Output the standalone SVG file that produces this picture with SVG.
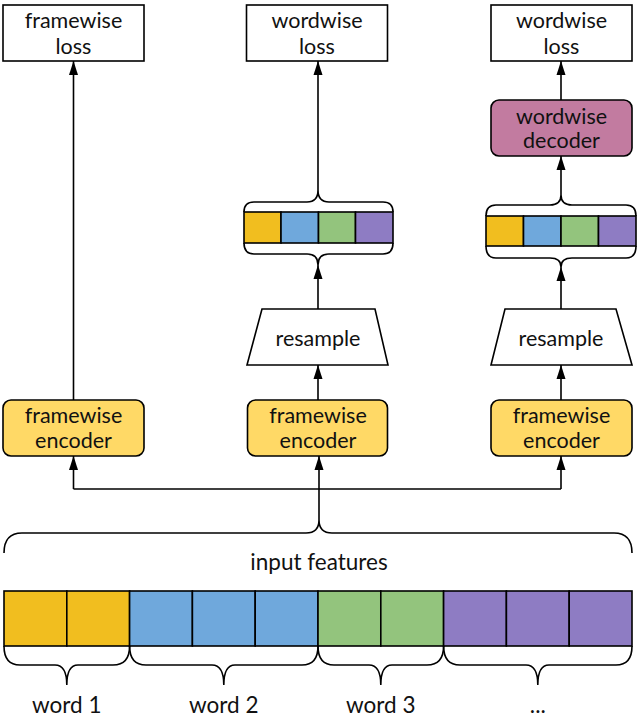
<svg xmlns="http://www.w3.org/2000/svg" width="640" height="719" viewBox="0 0 640 719">
<defs>
<marker id="arr" markerUnits="userSpaceOnUse" markerWidth="14" markerHeight="10" refX="14" refY="5" orient="auto">
<path d="M0,0.5 L14,5 L0,9.5 z" fill="#000"/>
</marker>
<style>
.box{fill:#fff;stroke:#000;stroke-width:1.6}
.enc{fill:#FFD966;stroke:#000;stroke-width:1.6}
.dec{fill:#C27BA0;stroke:#000;stroke-width:1.6}
.cell{stroke:#000;stroke-width:1.6}
.y{fill:#F1BE1F}.b{fill:#6FA8DC}.g{fill:#93C47D}.p{fill:#8E7CC3}
.br{fill:none;stroke:#000;stroke-width:1.6}
.ln{fill:none;stroke:#000;stroke-width:1.6}
text{font-family:Lato,"Liberation Sans",sans-serif;font-size:21.5px;fill:#111;text-anchor:middle}
text.big{font-size:22.5px}
</style>
</defs>
<rect width="640" height="719" fill="#fff"/>

<g id="loss-framewise"><rect class="box" x="3" y="5" width="141" height="56"/><text x="73.5" y="28">framewise</text><text x="73.5" y="54">loss</text></g>
<g id="loss-wordwise-mid"><rect class="box" x="246.5" y="5" width="141" height="56"/><text x="317" y="28">wordwise</text><text x="317" y="54">loss</text></g>
<g id="loss-wordwise-right"><rect class="box" x="491" y="5" width="141" height="56"/><text x="561.5" y="28">wordwise</text><text x="561.5" y="54">loss</text></g>

<g id="decoder"><rect class="dec" x="491" y="100" width="141" height="56" rx="8"/><text x="561.5" y="124">wordwise</text><text x="561.5" y="148">decoder</text></g>

<g id="words-mid">
<rect class="cell y" x="244" y="212" width="37" height="31"/>
<rect class="cell b" x="281" y="212" width="37.5" height="31"/>
<rect class="cell g" x="318.5" y="212" width="37" height="31"/>
<rect class="cell p" x="355.5" y="212" width="37.5" height="31"/>
<path class="br" d="M244,212 Q244,202 254,202 L307,202 Q318,202 318,190 Q318,202 329,202 L383,202 Q393,202 393,212"/>
<path class="br" d="M244,243 Q244,254 254,254 L307,254 Q318,254 318,265 Q318,254 329,254 L383,254 Q393,254 393,243"/>
</g>
<g id="words-right">
<rect class="cell y" x="486" y="216" width="37.5" height="30"/>
<rect class="cell b" x="523.5" y="216" width="37.5" height="30"/>
<rect class="cell g" x="561" y="216" width="37.5" height="30"/>
<rect class="cell p" x="598.5" y="216" width="37.5" height="30"/>
<path class="br" d="M486,216 Q486,205 496,205 L550,205 Q561,205 561,195 Q561,205 572,205 L626,205 Q636,205 636,216"/>
<path class="br" d="M486,246 Q486,258 496,258 L550,258 Q561,258 561,267 Q561,258 572,258 L626,258 Q636,258 636,246"/>
</g>

<g id="resample-mid"><path class="box" d="M262,309 L375,309 L388,365 L247,365 Z"/><text x="318" y="346">resample</text></g>
<g id="resample-right"><path class="box" d="M505,309 L616,309 L632,365 L491,365 Z"/><text x="561" y="346">resample</text></g>

<g id="enc-left"><rect class="enc" x="3" y="400" width="141" height="56" rx="8"/><text x="73.5" y="423">framewise</text><text x="73.5" y="448">encoder</text></g>
<g id="enc-mid"><rect class="enc" x="247.5" y="400" width="140" height="56" rx="8"/><text x="318" y="423">framewise</text><text x="318" y="448">encoder</text></g>
<g id="enc-right"><rect class="enc" x="491" y="400" width="141" height="56" rx="8"/><text x="561.5" y="423">framewise</text><text x="561.5" y="448">encoder</text></g>

<g id="input-features">
<path class="br" d="M4,553 Q4,533 22,533 L306,533 Q319,533 319,520 Q319,533 332,533 L614,533 Q632,533 632,553"/>
<text class="big" x="319" y="570">input features</text>
<rect class="cell y" x="4" y="591" width="62.8" height="55"/>
<rect class="cell y" x="66.8" y="591" width="62.8" height="55"/>
<rect class="cell b" x="129.6" y="591" width="62.8" height="55"/>
<rect class="cell b" x="192.4" y="591" width="62.8" height="55"/>
<rect class="cell b" x="255.2" y="591" width="62.8" height="55"/>
<rect class="cell g" x="318" y="591" width="62.8" height="55"/>
<rect class="cell g" x="380.8" y="591" width="62.8" height="55"/>
<rect class="cell p" x="443.6" y="591" width="62.8" height="55"/>
<rect class="cell p" x="506.4" y="591" width="62.8" height="55"/>
<rect class="cell p" x="569.2" y="591" width="62.8" height="55"/>
</g>
<g id="word-braces">
<path class="br" d="M4,646 Q4,665 20,665 L55,665 Q66.8,665 66.8,685 Q66.8,665 78,665 L113,665 Q129.6,665 129.6,646"/>
<path class="br" d="M129.6,646 Q129.6,665 146,665 L212,665 Q223.8,665 223.8,685 Q223.8,665 235,665 L302,665 Q318,665 318,646"/>
<path class="br" d="M318,646 Q318,665 334,665 L369,665 Q380.8,665 380.8,685 Q380.8,665 392,665 L427,665 Q443.6,665 443.6,646"/>
<path class="br" d="M443.6,646 Q443.6,665 460,665 L526,665 Q537.8,665 537.8,685 Q537.8,665 549,665 L616,665 Q632,665 632,646"/>
<text class="big" x="66.8" y="713">word 1</text>
<text class="big" x="223.8" y="713">word 2</text>
<text class="big" x="380.8" y="713">word 3</text>
<text class="big" x="537.8" y="713">...</text>
</g>

<g id="connectors">
<path class="ln" d="M73.5,400 L73.5,61" marker-end="url(#arr)"/>
<path class="ln" d="M318,190 L318,61" marker-end="url(#arr)"/>
<path class="ln" d="M318,309 L318,265" marker-end="url(#arr)"/>
<path class="ln" d="M318,400 L318,365" marker-end="url(#arr)"/>
<path class="ln" d="M561,100 L561,61" marker-end="url(#arr)"/>
<path class="ln" d="M561,195 L561,156" marker-end="url(#arr)"/>
<path class="ln" d="M561,309 L561,267" marker-end="url(#arr)"/>
<path class="ln" d="M561,400 L561,365" marker-end="url(#arr)"/>
<path class="ln" d="M319,520 L319,456" marker-end="url(#arr)"/>
<path class="ln" d="M73.5,489 L561,489"/>
<path class="ln" d="M73.5,489 L73.5,456" marker-end="url(#arr)"/>
<path class="ln" d="M561,489 L561,456" marker-end="url(#arr)"/>
</g>
</svg>
